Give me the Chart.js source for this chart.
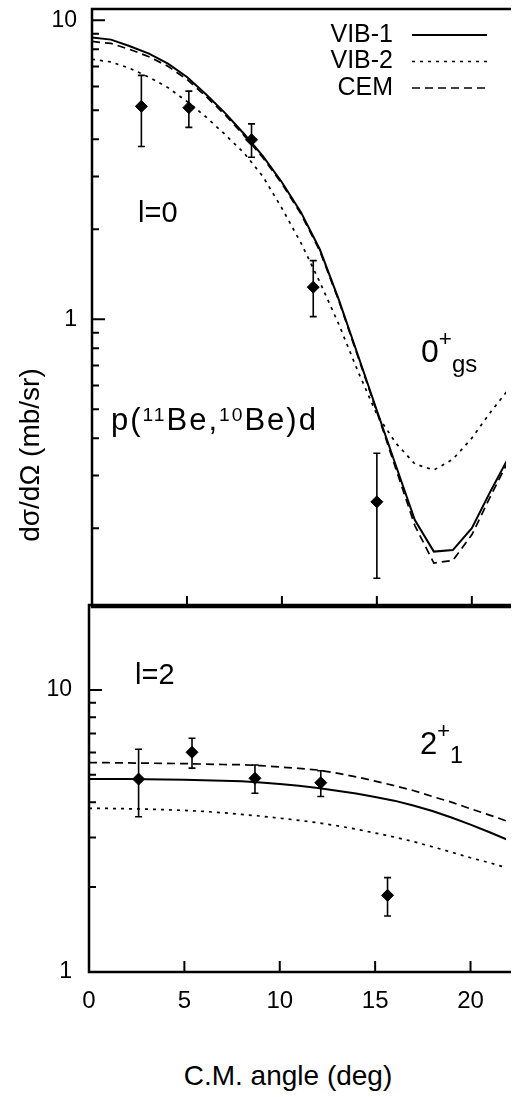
<!DOCTYPE html>
<html>
<head>
<meta charset="utf-8">
<script src="https://cdn.jsdelivr.net/npm/chart.js@4.4.1/dist/chart.umd.min.js"></script>
<style>
  html, body { margin: 0; padding: 0; background: #fff; }
  #page { position: relative; width: 513px; height: 1097px; overflow: hidden;
          font-family: "Liberation Sans", Arial, Helvetica, sans-serif; color: #000; }
  canvas { position: absolute; left: 0; }
  .txt { position: absolute; white-space: nowrap; line-height: 1; }
  .up { position: relative; font-size: 0.7em; top: -0.72em; }
  .down { position: relative; font-size: 0.75em; top: 0.4em; }
  .iso { position: relative; font-size: 0.62em; top: -0.45em; }
</style>
</head>
<body>
<div id="page">
  <canvas id="gsChart" width="513" height="614" style="top:0"></canvas>
  <canvas id="exChart" width="513" height="440" style="top:596px"></canvas>

  <div class="txt" style="left:138px;top:198px;font-size:29px">l=0</div>
  <div class="txt" style="left:111px;top:404px;font-size:31px;letter-spacing:2px">p(<span class="iso">11</span>Be,<span class="iso">10</span>Be)d</div>
  <div class="txt" style="left:421px;top:335px;font-size:32px">0<span class="up">+</span><span class="down">gs</span></div>
  <div class="txt" style="left:135px;top:660px;font-size:29px">l=2</div>
  <div class="txt" style="left:420px;top:728px;font-size:31px">2<span class="up">+</span><span class="down">1</span></div>

  <div class="txt" style="left:138px;top:1062px;width:300px;text-align:center;font-size:28px">C.M. angle (deg)</div>
  <div class="txt" style="left:-120px;top:441px;width:300px;text-align:center;font-size:28px;transform:rotate(-90deg)">dσ/dΩ (mb/sr)</div>
</div>

<script>
// theory grid (deg)
const angles = [0, 1, 2, 3, 4, 5, 6, 7, 8, 9, 10, 11, 12, 13, 14, 15, 16, 17, 18, 19, 20, 21, 22];

// 0+ gs, mb/sr
const vib1Gs = [8.75, 8.61, 8.18, 7.73, 7.16, 6.46, 5.65, 4.9, 4.17, 3.51, 2.87, 2.28, 1.71, 1.16, 0.759, 0.495, 0.324, 0.213, 0.167, 0.169, 0.2, 0.267, 0.351];
const vib2Gs = [7.4, 7.25, 6.9, 6.45, 5.95, 5.35, 4.75, 4.15, 3.6, 3.0, 2.35, 1.8, 1.33, 0.96, 0.67, 0.48, 0.385, 0.328, 0.313, 0.34, 0.4, 0.49, 0.59];
const cemGs  = [8.49, 8.36, 7.98, 7.55, 7.01, 6.34, 5.56, 4.83, 4.12, 3.47, 2.84, 2.25, 1.69, 1.15, 0.75, 0.49, 0.316, 0.204, 0.153, 0.156, 0.19, 0.257, 0.343];

// 2+ 1, mb/sr
const vib1Ex = [4.83, 4.83, 4.83, 4.82, 4.81, 4.8, 4.78, 4.76, 4.74, 4.7, 4.64, 4.57, 4.49, 4.39, 4.29, 4.17, 4.05, 3.89, 3.72, 3.53, 3.33, 3.13, 2.93];
const vib2Ex = [3.8, 3.8, 3.79, 3.78, 3.76, 3.74, 3.71, 3.67, 3.62, 3.57, 3.51, 3.45, 3.38, 3.3, 3.21, 3.11, 3.01, 2.9, 2.78, 2.66, 2.54, 2.44, 2.33];
const cemEx  = [5.52, 5.52, 5.51, 5.5, 5.49, 5.48, 5.46, 5.44, 5.43, 5.39, 5.33, 5.27, 5.2, 5.07, 4.92, 4.75, 4.58, 4.4, 4.19, 4.0, 3.79, 3.6, 3.41];

// measured points
const gsAngle   = [2.6, 5.1, 8.4, 11.65, 15.0];
const gsValue   = [5.15, 5.1, 3.98, 1.28, 0.245];
const gsErrLow  = [3.78, 4.38, 3.48, 1.02, 0.136];
const gsErrHigh = [6.54, 5.79, 4.5, 1.57, 0.356];

const exAngle   = [2.6, 5.4, 8.7, 12.15, 15.65];
const exValue   = [4.83, 6.01, 4.86, 4.69, 1.87];
const exErrLow  = [3.55, 5.28, 4.3, 4.19, 1.58];
const exErrHigh = [6.16, 6.74, 5.42, 5.17, 2.16];

// axis ticks
const xTicks  = [0, 5, 10, 15, 20];
const gsTicks = [0.2, 0.3, 0.4, 0.5, 0.6, 0.7, 0.8, 0.9, 1, 2, 3, 4, 5, 6, 7, 8, 9, 10];
const exTicks = [1, 2, 3, 4, 5, 6, 7, 8, 9, 10, 20];
const tickLabels = [1, 10];

const seriesNames = ['VIB-1', 'VIB-2', 'CEM'];

Chart.defaults.font.family = '"Liberation Sans", Arial, Helvetica, sans-serif';
Chart.defaults.color = '#000';

const pts = (xs, ys) => xs.map((x, i) => ({ x: x, y: ys[i] }));

// inward ticks + box edges
const frameTicks = {
  id: 'frameTicks',
  afterDatasetsDraw(chart) {
    const { ctx, chartArea: a, scales: { x, y } } = chart;
    ctx.save();
    ctx.strokeStyle = '#000';
    ctx.lineWidth = 2;
    ctx.beginPath();
    x.ticks.forEach(t => {
      const px = x.getPixelForValue(t.value);
      ctx.moveTo(px, a.bottom);
      ctx.lineTo(px, a.bottom - 11);
    });
    y.ticks.forEach(t => {
      const e = Math.floor(Math.log10(t.value) + 1e-9);
      const m = Math.round(t.value / Math.pow(10, e));
      const py = y.getPixelForValue(t.value);
      ctx.moveTo(a.left, py);
      ctx.lineTo(a.left + (m === 1 ? 13 : 7), py);
    });
    ctx.stroke();
    ctx.lineWidth = 2.5;
    ctx.beginPath();
    ctx.moveTo(a.right + 5, a.top);
    ctx.lineTo(a.left, a.top);
    ctx.lineTo(a.left, a.bottom);
    ctx.lineTo(a.right + 5, a.bottom);
    ctx.stroke();
    ctx.restore();
  }
};

const errorBars = {
  id: 'errorBars',
  afterDatasetsDraw(chart) {
    const { ctx, scales: { y } } = chart;
    ctx.save();
    ctx.strokeStyle = '#000';
    ctx.lineWidth = 1.6;
    chart.data.datasets.forEach((ds, i) => {
      if (!ds.errLow) return;
      chart.getDatasetMeta(i).data.forEach((el, j) => {
        const lo = y.getPixelForValue(ds.errLow[j]);
        const hi = y.getPixelForValue(ds.errHigh[j]);
        ctx.beginPath();
        ctx.moveTo(el.x, lo); ctx.lineTo(el.x, hi);
        ctx.moveTo(el.x - 3.5, lo); ctx.lineTo(el.x + 3.5, lo);
        ctx.moveTo(el.x - 3.5, hi); ctx.lineTo(el.x + 3.5, hi);
        ctx.stroke();
      });
    });
    ctx.restore();
  }
};

const sideLegend = {
  id: 'sideLegend',
  afterDraw(chart, args, opts) {
    if (!opts.show) return;
    const ctx = chart.ctx;
    ctx.save();
    ctx.font = '25px "Liberation Sans", Arial, sans-serif';
    ctx.textAlign = 'right';
    ctx.textBaseline = 'middle';
    ctx.fillStyle = '#000';
    let row = 0;
    chart.data.datasets.forEach(ds => {
      if (!ds.inLegend) return;
      const yy = opts.top + row * opts.step;
      ctx.fillText(ds.label, opts.textRight, yy);
      ctx.beginPath();
      ctx.setLineDash(ds.borderDash || []);
      ctx.lineWidth = ds.borderWidth;
      ctx.strokeStyle = '#000';
      ctx.moveTo(opts.lineLeft, yy);
      ctx.lineTo(opts.lineRight, yy);
      ctx.stroke();
      row++;
    });
    ctx.restore();
  }
};

function curves(v1, v2, cem) {
  return [
    { label: seriesNames[0], data: pts(angles, v1), inLegend: true, borderColor: '#000', borderWidth: 2, pointRadius: 0, tension: 0 },
    { label: seriesNames[1], data: pts(angles, v2), inLegend: true, borderColor: '#000', borderWidth: 1.7, borderDash: [3, 5], pointRadius: 0, tension: 0 },
    { label: seriesNames[2], data: pts(angles, cem), inLegend: true, borderColor: '#000', borderWidth: 1.7, borderDash: [8, 5], pointRadius: 0, tension: 0 }
  ];
}

function makePanel(canvasId, cfg) {
  return new Chart(document.getElementById(canvasId), {
    type: 'scatter',
    data: {
      datasets: [
        { label: 'data', data: pts(cfg.ax, cfg.val), errLow: cfg.lo, errHigh: cfg.hi,
          showLine: false, pointStyle: 'rectRot', pointRadius: 6, pointHoverRadius: 6,
          backgroundColor: '#000', borderColor: '#000' },
        ...curves(cfg.v1, cfg.v2, cfg.cem).map(d => Object.assign(d, { showLine: true, fill: false }))
      ]
    },
    options: {
      responsive: false,
      animation: false,
      devicePixelRatio: 1,
      layout: { padding: { top: 9, right: 0, bottom: 0, left: 0 } },
      scales: {
        x: {
          type: 'linear', min: 0, max: cfg.xMax,
          grid: { display: false, drawTicks: false },
          border: { display: false },
          afterBuildTicks: s => { s.ticks = xTicks.map(v => ({ value: v })); },
          afterFit: s => { s.height = cfg.xHeight; s.paddingLeft = 0; s.paddingRight = 0; },
          ticks: { display: cfg.xLabels, padding: 15, font: { size: 24 }, maxRotation: 0 }
        },
        y: {
          type: 'logarithmic', min: cfg.yMin, max: cfg.yMax,
          grid: { display: false, drawTicks: false },
          border: { display: false },
          afterBuildTicks: s => { s.ticks = cfg.yTicks.map(v => ({ value: v })); },
          afterFit: s => { s.width = cfg.left; s.paddingTop = 0; s.paddingBottom = 0; },
          ticks: {
            padding: cfg.labelPad, font: { size: 23 }, autoSkip: false,
            callback: v => tickLabels.includes(v) ? String(v) : ''
          }
        }
      },
      plugins: {
        legend: { display: false },
        tooltip: { enabled: false },
        sideLegend: { show: cfg.legend, top: 35, step: 26.5, textRight: 393, lineLeft: 412, lineRight: 487 }
      }
    },
    plugins: [frameTicks, errorBars, sideLegend]
  });
}

makePanel('gsChart', {
  ax: gsAngle, val: gsValue, lo: gsErrLow, hi: gsErrHigh,
  v1: vib1Gs, v2: vib2Gs, cem: cemGs,
  xMax: 21.8, xHeight: 1, xLabels: false,
  yMin: 0.109, yMax: 10.9, yTicks: gsTicks, left: 92, labelPad: 15, legend: true
});

makePanel('exChart', {
  ax: exAngle, val: exValue, lo: exErrLow, hi: exErrHigh,
  v1: vib1Ex, v2: vib2Ex, cem: cemEx,
  xMax: 21.86, xHeight: 64, xLabels: true,
  yMin: 1, yMax: 20, yTicks: exTicks, left: 89, labelPad: 17, legend: false
});
</script>
</body>
</html>
